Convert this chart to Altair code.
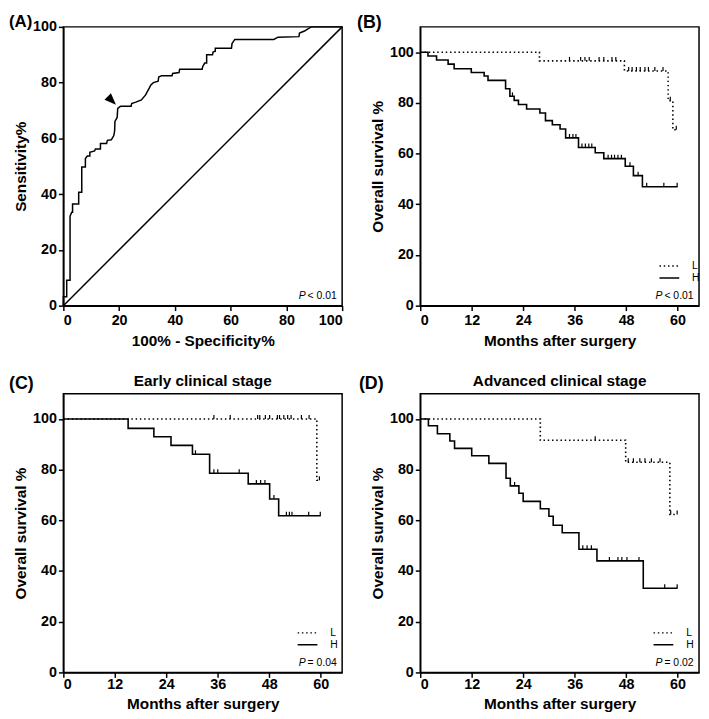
import altair as alt
import pandas as pd

FONT = "Liberation Sans"

# ---------------- Panel A: ROC curve ----------------
roc_fpr = [0, 0, 1.2, 1.2, 2.4, 2.4, 3.0, 3.3, 3.3, 5.5,
           5.5, 6.6, 6.6, 7.9, 7.9, 8.6, 9.5, 9.5, 11.2, 11.5,
           13.3, 13.3, 15.5, 15.8, 17.2, 18.1, 18.4, 18.5, 19.3, 19.5,
           20.5, 24.3, 24.5, 26.0, 28.0, 29.5, 30.8, 31.4, 32.3, 34.0,
           34.2, 35.2, 39.0, 39.2, 41.5, 41.7, 49.8, 50.0, 50.7, 51.4,
           51.4, 53.5, 53.7, 54.5, 54.5, 60.3, 60.5, 61.5, 75.5, 77.0,
           84.5, 84.7, 86.5, 88.0, 89.0, 100]
roc_tpr = [0, 3.2, 3.2, 9.1, 9.1, 32.1, 33.5, 33.5, 36.5, 36.5,
           40.7, 40.7, 49.7, 49.7, 52.8, 53.7, 53.7, 55.0, 55.5, 56.2,
           56.2, 58.2, 58.2, 59.3, 59.5, 61.0, 62.8, 66.1, 67.5, 70.8,
           71.5, 71.5, 72.5, 73.0, 73.8, 75.6, 78.0, 79.2, 80.0, 80.5,
           82.0, 82.5, 82.5, 83.3, 83.6, 84.8, 84.8, 85.8, 87.0, 87.0,
           90.0, 90.0, 91.0, 91.3, 92.3, 92.3, 94.0, 95.5, 95.5, 96.3,
           96.5, 97.8, 98.5, 99.5, 100, 100]
diag_x = [0, 100]
diag_y = [0, 100]
arrow_x = [16.8]
arrow_y = [74.1]

# ---------------- Panel B: all patients ----------------
b_L_time = [0, 27.8, 47.6, 57.8, 58.9, 60]
b_L_surv = [100, 96.6, 92.6, 80.9, 69.4, 69.4]
b_L_cens = [34.8, 37.4, 38.4, 39.4, 41.7, 42.8, 44.7, 45.6, 48.6, 49.4,
            50.4, 51.3, 52.4, 53.2, 54.7, 56.6, 58.3, 59.7]
b_H_time = [0, 1.8, 3.8, 6.5, 7.9, 11.9, 14.9, 15.8, 19.9, 20.9, 21.9, 22.9,
            24.8, 27.9, 29.2, 30.8, 32.6, 33.9, 36.9, 40.8, 42.8, 47.8, 49.7,
            51.8, 60]
b_H_surv = [100, 98.5, 96.9, 95.3, 93.5, 92.0, 90.6, 88.9, 85.6, 82.6, 81.0,
            79.4, 77.6, 76.0, 73.0, 71.4, 69.7, 66.2, 62.4, 60.3, 58.0, 55.0,
            51.3, 46.9, 46.9]
b_H_cens = [21.5, 34.8, 35.6, 36.3, 37.7, 38.5, 39.3, 40.0, 43.8, 44.6, 45.3,
            46.1, 46.9, 48.9, 50.8, 52.8, 56.8, 59.9]

# ---------------- Panel C: early clinical stage ----------------
c_L_time = [0, 59.1, 60]
c_L_surv = [100, 75.8, 75.8]
c_L_cens = [35.1, 38.9, 45.3, 45.8, 47.1, 48.1, 49.9, 50.4, 51.4, 52.3, 53.1,
            55.5, 57.3, 59.7]
c_H_time = [0, 15.1, 21.1, 25.1, 30.1, 34.1, 43.1, 48.1, 50.2, 60]
c_H_surv = [100, 96.3, 93.0, 89.6, 86.1, 78.6, 74.4, 68.4, 61.8, 61.8]
c_H_cens = [30.8, 35.1, 36.0, 41.0, 45.0, 46.0, 47.0, 49.1, 52.0, 52.7, 53.3,
            57.2, 59.9]

# ---------------- Panel D: advanced clinical stage ----------------
d_L_time = [0, 28.0, 47.9, 58.2, 60]
d_L_surv = [100, 91.6, 82.9, 62.3, 62.3]
d_L_cens = [40.8, 48.5, 49.7, 51.2, 52.4, 53.9, 55.9, 58.4, 59.9]
d_H_time = [0, 1.9, 4.0, 6.9, 8.0, 12.0, 16.0, 20.0, 21.0, 23.0, 24.0, 28.0,
            30.0, 31.0, 33.1, 37.0, 41.2, 52.0, 60]
d_H_surv = [100, 97.3, 94.2, 91.3, 88.4, 85.5, 82.5, 76.6, 73.6, 70.7, 67.5,
            64.6, 61.6, 58.1, 55.1, 48.6, 44.0, 33.2, 33.2]
d_H_cens = [22.0, 37.9, 38.9, 39.9, 44.1, 46.1, 47.0, 48.2, 51.0, 57.0, 59.9]

groups = ["L", "H"]
x_ticks_km = [0, 12, 24, 36, 48, 60]
y_ticks = [0, 20, 40, 60, 80, 100]
x_ticks_roc = [0, 20, 40, 60, 80, 100]

W = 282
H = 282


def text_layer(txt, x, y, size, weight="bold", align="left",
               baseline="alphabetic", style="normal"):
    return alt.Chart(pd.DataFrame({"t": [txt]})).mark_text(
        font=FONT, fontSize=size, fontWeight=weight, fontStyle=style,
        align=align, baseline=baseline, color="black"
    ).encode(x=alt.value(x), y=alt.value(y), text="t:N")


def pvalue(rel, val):
    return [text_layer("P", 238, 275, 10.5, weight="normal", style="italic"),
            text_layer(rel + " " + val, 247, 275, 10.5, weight="normal")]


def km_panel(L_time, L_surv, L_cens, H_time, H_surv, H_cens, label, label_dx,
             label_dy, title, title_y, label_pad, rel, val, leg_x):
    curves = {"L": (L_time, L_surv), "H": (H_time, H_surv)}
    cens = {"L": L_cens, "H": H_cens}
    rows = []
    for g in groups:
        ts, ss = curves[g]
        for i, (t, s) in enumerate(zip(ts, ss)):
            rows.append({"time": t, "surv": s, "group": g, "order": i})
    crow = []
    for g in groups:
        ts, ss = curves[g]
        for c in cens[g]:
            lvl = ss[0]
            for t, s in zip(ts, ss):
                if t <= c:
                    lvl = s
            crow.append({"time": c, "surv": lvl, "group": g})
    df = pd.DataFrame(rows)
    cdf = pd.DataFrame(crow)

    x_enc = alt.X("time:Q", scale=alt.Scale(domain=[0, 65], nice=False),
                  axis=alt.Axis(title="Months after surgery", values=x_ticks_km,
                                titleY=title_y, titleBaseline="alphabetic",
                                labelPadding=label_pad))
    y_enc = alt.Y("surv:Q", scale=alt.Scale(domain=[0, 110], nice=False),
                  axis=alt.Axis(title="Overall survival %", values=y_ticks,
                                titleX=-38, titleBaseline="alphabetic",
                                labelPadding=2))

    lines = alt.Chart(df).mark_line(
        interpolate="step-after", color="black", strokeWidth=1.6
    ).encode(
        x=x_enc, y=y_enc,
        strokeDash=alt.StrokeDash(
            "group:N",
            scale=alt.Scale(domain=groups, range=[[1.5, 2.8], [1, 0]]),
            legend=alt.Legend(
                title=None, orient="none", legendX=leg_x, legendY=236,
                symbolType="M-2,0H2", symbolSize=100, symbolStrokeWidth=1.5,
                symbolStrokeColor="black", symbolFillColor="transparent",
                labelFont=FONT, labelFontSize=10.5, labelColor="black",
                labelFontWeight="normal", padding=0, rowPadding=0,
                labelOffset=17,
            ),
        ),
        detail="group:N",
        order="order:Q",
    )
    ticks = alt.Chart(cdf).mark_point(
        shape="M0,0L0,-1", size=64, strokeWidth=1.2, color="black",
        filled=False, opacity=1
    ).encode(x=x_enc, y=y_enc)

    layers = [lines, ticks, text_layer(label, label_dx, label_dy, 18,
                                       baseline="top")]
    if title:
        layers.append(text_layer(title, W / 2, -8, 15.5, align="center"))
    layers += pvalue(rel, val)
    return alt.layer(*layers).properties(width=W, height=H)


# ---------- ROC panel ----------
roc_df = pd.DataFrame({"fpr": roc_fpr, "tpr": roc_tpr,
                       "order": list(range(len(roc_fpr)))})
diag_df = pd.DataFrame({"fpr": diag_x, "tpr": diag_y})
arrow_df = pd.DataFrame({"fpr": arrow_x, "tpr": arrow_y})

rx = alt.X("fpr:Q", scale=alt.Scale(domain=[0, 100], nice=False),
           axis=alt.Axis(title="100% - Specificity%", values=x_ticks_roc,
                         titleY=40, titleBaseline="alphabetic", labelPadding=3))
ry = alt.Y("tpr:Q", scale=alt.Scale(domain=[0, 100], nice=False),
           axis=alt.Axis(title="Sensitivity%", values=y_ticks, titleX=-38,
                         titleBaseline="alphabetic", labelPadding=2))

roc_line = alt.Chart(roc_df).mark_line(color="black", strokeWidth=1.5).encode(
    x=rx, y=ry, order="order:Q")
diag_line = alt.Chart(diag_df).mark_line(color="black", strokeWidth=1.5).encode(
    x=rx, y=ry)
arrow = alt.Chart(arrow_df).mark_point(
    shape="M0.8,0.8L-0.8,0.1L0.1,-0.8Z", size=210, filled=True,
    color="black", opacity=1, strokeWidth=0).encode(x=rx, y=ry)

panel_a = alt.layer(
    roc_line, diag_line, arrow,
    text_layer("(A)", -55, -13, 17, baseline="top"),
    *pvalue("<", "0.01"),
).properties(width=W, height=H)

panel_b = km_panel(b_L_time, b_L_surv, b_L_cens, b_H_time, b_H_surv, b_H_cens,
                   "(B)", -64, -13, None, 40, 3, "<", "0.01", 246)
panel_c = km_panel(c_L_time, c_L_surv, c_L_cens, c_H_time, c_H_surv, c_H_cens,
                   "(C)", -55, -19, "Early clinical stage", 36, 0.5, "=",
                   "0.04", 241)
panel_d = km_panel(d_L_time, d_L_surv, d_L_cens, d_H_time, d_H_surv, d_H_cens,
                   "(D)", -62, -19, "Advanced clinical stage", 36, 0.5, "=",
                   "0.02", 240)

chart = alt.concat(
    panel_a, panel_b, panel_c, panel_d, columns=2,
    spacing={"row": 89, "column": 79}, bounds="flush"
).resolve_scale(strokeDash="independent").resolve_legend(
    strokeDash="independent"
).properties(
    padding={"left": 0, "top": 0, "right": 0, "bottom": 0}
).configure(font=FONT).configure_axis(
    labelFont=FONT, labelFontSize=14.5, labelFontWeight="bold",
    labelColor="black", titleFont=FONT, titleFontSize=15.5,
    titleFontWeight="bold", titleColor="black", tickColor="black", tickSize=5,
    tickWidth=1.5, domainColor="black", domainWidth=1.5, grid=False
).configure_legend(labelColor="black").configure_view(
    stroke="black", strokeWidth=1.5)

chart.save("out.html", embed_options={"renderer": "svg", "actions": False})
